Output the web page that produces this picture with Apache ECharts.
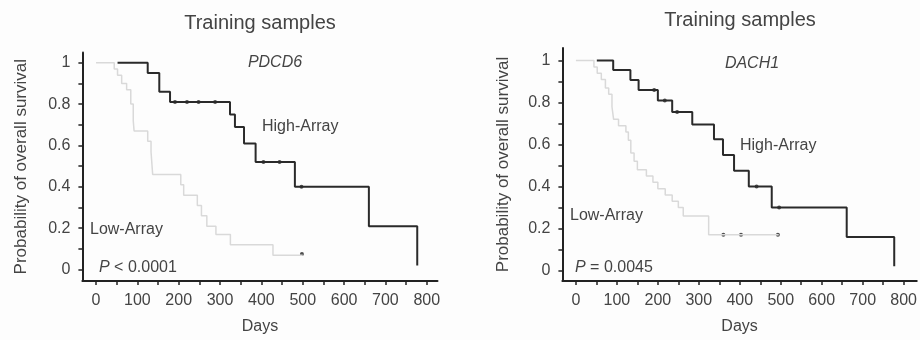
<!DOCTYPE html>
<html>
<head>
<meta charset="utf-8">
<script src="https://cdn.jsdelivr.net/npm/echarts@6/dist/echarts.min.js"></script>
<style>
  html, body { margin: 0; padding: 0; background: #fdfdfd; }
  #chart { width: 920px; height: 340px; }
</style>
</head>
<body>
<div id="chart"></div>
<script>
const xLabelValues = [0, 100, 200, 300, 400, 500, 600, 700, 800];
const xTickValues = [0, 50, 100, 150, 200, 250, 300, 350, 400, 450, 500, 550, 600, 650, 700, 750, 800];
const yLabelValues = [0, 0.2, 0.4, 0.6, 0.8, 1];
const yTickValues = [0, 0.1, 0.2, 0.3, 0.4, 0.5, 0.6, 0.7, 0.8, 0.9, 1];

// PDCD6 - high
const pdcd6HighDays = [52, 125, 153, 179, 324, 336, 358, 386, 481, 660, 777];
const pdcd6HighSurv = [1, 0.95, 0.86, 0.81, 0.75, 0.69, 0.61, 0.52, 0.40, 0.21, 0.02];
const pdcd6HighCensorDays = [191, 220, 248, 288, 405, 444, 497];
const pdcd6HighCensorSurv = [0.81, 0.81, 0.81, 0.81, 0.52, 0.52, 0.40];
// PDCD6 - low
const pdcd6LowDays = [0, 44, 52, 62, 74, 84, 90, 92, 125, 133, 137, 205, 212, 245, 255, 268, 290, 325, 428, 500];
const pdcd6LowSurv = [1, 0.97, 0.94, 0.90, 0.87, 0.80, 0.72, 0.67, 0.62, 0.57, 0.46, 0.41, 0.36, 0.31, 0.26, 0.21, 0.17, 0.12, 0.07, 0.07];
const pdcd6LowCensorDays = [498];
const pdcd6LowCensorSurv = [0.075];

// DACH1 - high
const dach1HighDays = [51, 91, 133, 153, 200, 235, 284, 337, 359, 386, 422, 478, 661, 777];
const dach1HighSurv = [1, 0.955, 0.907, 0.86, 0.81, 0.755, 0.695, 0.625, 0.55, 0.475, 0.40, 0.30, 0.16, 0.02];
const dach1HighCensorDays = [191, 217, 247, 441, 496];
const dach1HighCensorSurv = [0.86, 0.81, 0.755, 0.40, 0.30];
// DACH1 - low
const dach1LowDays = [0, 44, 52, 62, 72, 80, 88, 92, 104, 122, 128, 134, 142, 150, 172, 188, 200, 218, 235, 250, 262, 324, 495];
const dach1LowSurv = [1, 0.97, 0.94, 0.91, 0.87, 0.84, 0.78, 0.72, 0.69, 0.66, 0.62, 0.56, 0.52, 0.48, 0.45, 0.42, 0.39, 0.36, 0.33, 0.30, 0.26, 0.17, 0.17];
const dach1LowCensorDays = [360, 403, 493];
const dach1LowCensorSurv = [0.17, 0.17, 0.17];

const FONT = "'Liberation Sans', Arial, sans-serif";
const TEXT = '#444';
const AXIS = '#222';

const pairs = (xs, ys) => xs.map((x, i) => [x, ys[i]]);

const xAxisFor = (gridIndex, max) => ({
  gridIndex,
  type: 'value',
  min: -33,
  max,
  name: 'Days',
  nameLocation: 'middle',
  nameGap: 38,
  nameTextStyle: { fontSize: 16, color: TEXT, fontFamily: FONT },
  axisLine: { show: true, onZero: false, lineStyle: { color: AXIS, width: 2 } },
  axisTick: { show: true, customValues: xTickValues, length: 4, lineStyle: { color: AXIS, width: 1.5 } },
  axisLabel: { customValues: xLabelValues, margin: 12, fontSize: 16, color: TEXT, fontFamily: FONT },
  splitLine: { show: false }
});

const yAxisFor = (gridIndex, min, max, gap) => ({
  gridIndex,
  type: 'value',
  min,
  max,
  name: 'Probability of overall survival',
  nameLocation: 'middle',
  nameGap: gap,
  nameTextStyle: { fontSize: 17, color: TEXT, fontFamily: FONT },
  axisLine: { show: true, onZero: false, lineStyle: { color: AXIS, width: 2 } },
  axisTick: { show: true, customValues: yTickValues, length: 4, lineStyle: { color: AXIS, width: 1.5 } },
  axisLabel: { customValues: yLabelValues, margin: 12, fontSize: 16, color: TEXT, fontFamily: FONT },
  splitLine: { show: false }
});

const kmLine = (idx, data, color, width) => ({
  type: 'line',
  xAxisIndex: idx,
  yAxisIndex: idx,
  step: 'end',
  showSymbol: false,
  silent: true,
  data,
  lineStyle: { color, width }
});

const censor = (idx, data) => ({
  type: 'scatter',
  xAxisIndex: idx,
  yAxisIndex: idx,
  symbol: 'circle',
  symbolSize: 4,
  silent: true,
  itemStyle: { color: '#222' },
  data
});

const txt = (x, y, text, size, extra) => ({
  type: 'text',
  x, y,
  style: Object.assign({
    text,
    fontSize: size,
    fontFamily: FONT,
    fill: TEXT,
    align: 'left',
    verticalAlign: 'middle'
  }, extra || {})
});

const chart = echarts.init(document.getElementById('chart'));
chart.setOption({
  backgroundColor: '#fdfdfd',
  animation: false,
  grid: [
    { left: 82.4, top: 52.4, width: 355.1, height: 234.8 },
    { left: 562.4, top: 48, width: 357.6, height: 235.3 }
  ],
  xAxis: [xAxisFor(0, 826), xAxisFor(1, 832)],
  yAxis: [yAxisFor(0, -0.055, 1.05, 53), yAxisFor(1, -0.05, 1.06, 51)],
  series: [
    kmLine(0, pairs(pdcd6LowDays, pdcd6LowSurv), '#d9d9d9', 1.5),
    kmLine(0, pairs(pdcd6HighDays, pdcd6HighSurv), '#2a2a2a', 2),
    censor(0, pairs(pdcd6HighCensorDays, pdcd6HighCensorSurv)),
    censor(0, pairs(pdcd6LowCensorDays, pdcd6LowCensorSurv)),
    kmLine(1, pairs(dach1LowDays, dach1LowSurv), '#d9d9d9', 1.5),
    kmLine(1, pairs(dach1HighDays, dach1HighSurv), '#2a2a2a', 2),
    censor(1, pairs(dach1HighCensorDays, dach1HighCensorSurv)),
    censor(1, pairs(dach1LowCensorDays, dach1LowCensorSurv))
  ],
  graphic: [
    txt(260, 23, 'Training samples', 20, { align: 'center' }),
    txt(275, 63, 'PDCD6', 16, { align: 'center', fontStyle: 'italic' }),
    txt(262, 127, 'High-Array', 16),
    txt(90, 230, 'Low-Array', 16),
    txt(99, 268, '{i|P} < 0.0001', 16, { rich: { i: { fontStyle: 'italic', fontSize: 16, fontFamily: FONT, fill: TEXT } } }),
    txt(740, 20, 'Training samples', 20, { align: 'center' }),
    txt(752, 64, 'DACH1', 16, { align: 'center', fontStyle: 'italic' }),
    txt(740, 146, 'High-Array', 16),
    txt(570, 216, 'Low-Array', 16),
    txt(575, 268, '{i|P} = 0.0045', 16, { rich: { i: { fontStyle: 'italic', fontSize: 16, fontFamily: FONT, fill: TEXT } } })
  ]
});
</script>
</body>
</html>
